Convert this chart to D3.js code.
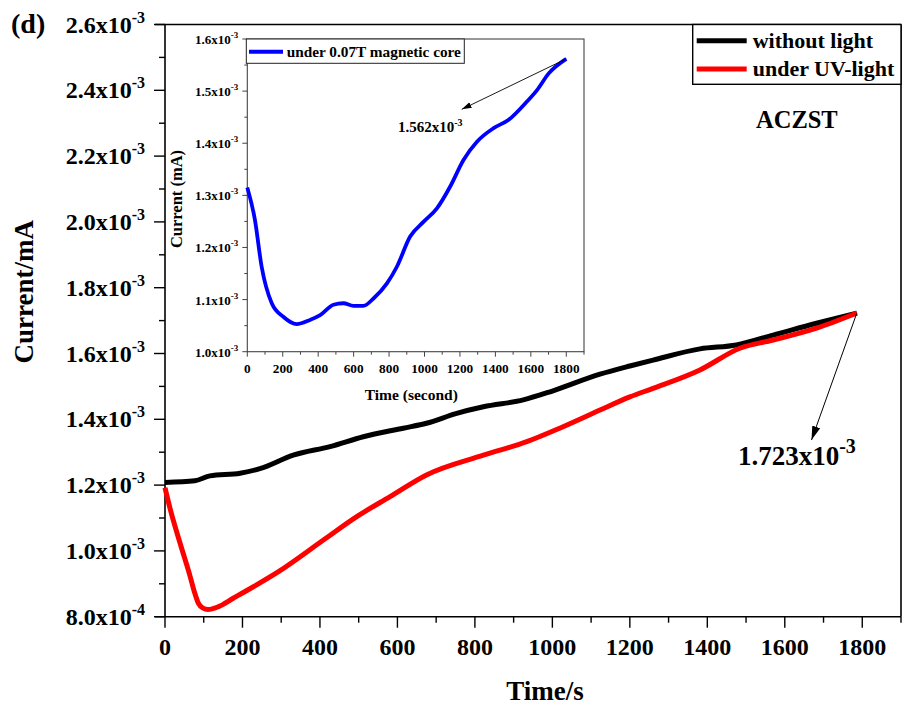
<!DOCTYPE html>
<html>
<head>
<meta charset="utf-8">
<script src="https://cdn.jsdelivr.net/npm/d3@7"></script>
<style>
  html, body { margin: 0; padding: 0; background: #fff; }
  svg { display: block; font-family: "Liberation Serif", "Times New Roman", serif; font-weight: bold; }
</style>
</head>
<body>
<svg id="chart" width="903" height="706"></svg>
<script>
// ---- Main panel data (current in mA, time in s) ----
const timeDark = [0, 77, 116, 194, 245, 331, 426, 512, 615, 675, 753, 822, 925, 1000, 1123, 1200, 1260, 1381, 1475, 1570, 1682, 1786];
const currentDark = [1.208e-3, 1.213e-3, 1.228e-3, 1.236e-3, 1.250e-3, 1.291e-3, 1.317e-3, 1.347e-3, 1.373e-3, 1.388e-3, 1.418e-3, 1.438e-3, 1.459e-3, 1.486e-3, 1.537e-3, 1.562e-3, 1.580e-3, 1.614e-3, 1.626e-3, 1.656e-3, 1.692e-3, 1.723e-3];

const timeUV = [0, 13, 39, 65, 77, 86, 98, 111, 137, 176, 228, 293, 409, 495, 581, 675, 822, 934, 1019, 1123, 1200, 1260, 1381, 1484, 1570, 1682, 1786];
const currentUV = [1.192e-3, 1.129e-3, 1.023e-3, 0.922e-3, 0.871e-3, 0.841e-3, 0.826e-3, 0.822e-3, 0.830e-3, 0.856e-3, 0.891e-3, 0.937e-3, 1.033e-3, 1.104e-3, 1.165e-3, 1.231e-3, 1.291e-3, 1.332e-3, 1.373e-3, 1.428e-3, 1.468e-3, 1.494e-3, 1.550e-3, 1.616e-3, 1.641e-3, 1.677e-3, 1.723e-3];

// ---- Inset data ----
const timeCore = [0, 43, 81, 138, 203, 279, 354, 411, 486, 542, 599, 655, 712, 788, 844, 919, 994, 1070, 1145, 1220, 1296, 1390, 1475, 1578, 1635, 1701, 1800];
const currentCore = [1.315e-3, 1.253e-3, 1.163e-3, 1.093e-3, 1.067e-3, 1.053e-3, 1.061e-3, 1.070e-3, 1.090e-3, 1.093e-3, 1.088e-3, 1.088e-3, 1.102e-3, 1.131e-3, 1.163e-3, 1.221e-3, 1.249e-3, 1.275e-3, 1.317e-3, 1.368e-3, 1.403e-3, 1.429e-3, 1.445e-3, 1.480e-3, 1.502e-3, 1.534e-3, 1.562e-3];

// ---- Axis ticks and labels ----
const mainXTicks = [0, 200, 400, 600, 800, 1000, 1200, 1400, 1600, 1800];
const mainYTicks = [0.8e-3, 1.0e-3, 1.2e-3, 1.4e-3, 1.6e-3, 1.8e-3, 2.0e-3, 2.2e-3, 2.4e-3, 2.6e-3];
const mainYLabels = [["8.0x10", "-4"], ["1.0x10", "-3"], ["1.2x10", "-3"], ["1.4x10", "-3"], ["1.6x10", "-3"], ["1.8x10", "-3"], ["2.0x10", "-3"], ["2.2x10", "-3"], ["2.4x10", "-3"], ["2.6x10", "-3"]];
const insetXTicks = [0, 200, 400, 600, 800, 1000, 1200, 1400, 1600, 1800];
const insetYTicks = [1.0e-3, 1.1e-3, 1.2e-3, 1.3e-3, 1.4e-3, 1.5e-3, 1.6e-3];
const insetYLabels = [["1.0x10", "-3"], ["1.1x10", "-3"], ["1.2x10", "-3"], ["1.3x10", "-3"], ["1.4x10", "-3"], ["1.5x10", "-3"], ["1.6x10", "-3"]];

const seriesNames = ["without light", "under UV-light"];
const insetSeriesName = "under 0.07T magnetic core";
const endLabel = ["1.723x10", "-3"];
const insetEndLabel = ["1.562x10", "-3"];

const svg = d3.select("#chart");

// arrowhead markers
const defs = svg.append("defs");
defs.append("marker").attr("id", "arrowHead")
  .attr("viewBox", "0 0 10 10").attr("refX", 10).attr("refY", 5)
  .attr("markerWidth", 14).attr("markerHeight", 14).attr("markerUnits", "userSpaceOnUse")
  .attr("orient", "auto")
  .append("path").attr("d", "M0,2 L10,5 L0,8 Z").attr("fill", "#000");
defs.append("marker").attr("id", "arrowHeadSmall")
  .attr("viewBox", "0 0 10 10").attr("refX", 10).attr("refY", 5)
  .attr("markerWidth", 10).attr("markerHeight", 10).attr("markerUnits", "userSpaceOnUse")
  .attr("orient", "auto")
  .append("path").attr("d", "M0,2 L10,5 L0,8 Z").attr("fill", "#000");

// text with a raised exponent
function sciText(sel, mant, exp, size, supSize, rise) {
  sel.append("tspan").text(mant).attr("font-size", size);
  sel.append("tspan").text(exp).attr("font-size", supSize).attr("dy", -rise);
}

// ================= Main panel =================
const M = { left: 165, right: 901, top: 24.5, bottom: 616.7 };
const x = d3.scaleLinear().domain([0, 1900]).range([M.left, M.right]);
const y = d3.scaleLinear().domain([0.8e-3, 2.6e-3]).range([M.bottom, M.top]);

const mainLine = d3.line().x(d => x(d[0])).y(d => y(d[1])).curve(d3.curveMonotoneX);
const darkData = d3.zip(timeDark, currentDark);
const uvData = d3.zip(timeUV, currentUV);

// frame (top and right)
svg.append("line").attr("x1", M.left - 10).attr("x2", M.right).attr("y1", M.top).attr("y2", M.top)
  .attr("stroke", "#000").attr("stroke-width", 1.6);
svg.append("line").attr("x1", M.right).attr("x2", M.right).attr("y1", M.top).attr("y2", M.bottom)
  .attr("stroke", "#000").attr("stroke-width", 1.6);

// x axis
const xAxis = svg.append("g").attr("transform", `translate(0,${M.bottom})`);
xAxis.append("line").attr("x1", M.left - 10).attr("x2", M.right).attr("stroke", "#000").attr("stroke-width", 1.6);
d3.range(0, 1901, 100).forEach(t => {
  const major = t % 200 === 0;
  xAxis.append("line").attr("x1", x(t)).attr("x2", x(t)).attr("y1", 0).attr("y2", major ? 11 : 6)
    .attr("stroke", "#000").attr("stroke-width", 1.4);
});
xAxis.selectAll("text.tick").data(mainXTicks).enter().append("text")
  .attr("x", d => x(d)).attr("y", 38).attr("text-anchor", "middle")
  .attr("font-size", 24).text(d => d);
svg.append("text").attr("x", 545).attr("y", 700).attr("text-anchor", "middle")
  .attr("font-size", 27).text("Time/s");

// y axis
const yAxis = svg.append("g").attr("transform", `translate(${M.left},0)`);
yAxis.append("line").attr("y1", M.top).attr("y2", M.bottom).attr("stroke", "#000").attr("stroke-width", 1.6);
d3.range(0, 19).forEach(i => {
  const v = 0.8e-3 + i * 0.1e-3;
  const major = i % 2 === 0;
  yAxis.append("line").attr("x1", major ? -11 : -6).attr("x2", 0).attr("y1", y(v)).attr("y2", y(v))
    .attr("stroke", "#000").attr("stroke-width", 1.4);
});
mainYTicks.forEach((v, i) => {
  const t = yAxis.append("text").attr("x", -20).attr("y", y(v) + 8).attr("text-anchor", "end");
  sciText(t, mainYLabels[i][0], mainYLabels[i][1], 24, 16, 10);
});
svg.append("text").attr("transform", "translate(33,291.7) rotate(-90)")
  .attr("text-anchor", "middle").attr("font-size", 27).text("Current/mA");

// panel letter
svg.append("text").attr("x", 11).attr("y", 33).attr("font-size", 28).text("(d)");

// series
svg.append("path").datum(darkData).attr("d", mainLine)
  .attr("fill", "none").attr("stroke", "#000").attr("stroke-width", 5).attr("stroke-linejoin", "round");
svg.append("path").datum(uvData).attr("d", mainLine)
  .attr("fill", "none").attr("stroke", "#ff0000").attr("stroke-width", 5).attr("stroke-linejoin", "round");

// end-value annotation
const endPt = darkData[darkData.length - 1];
svg.append("line").attr("x1", x(endPt[0])).attr("y1", y(endPt[1]))
  .attr("x2", x(1669)).attr("y2", y(1.337e-3))
  .attr("stroke", "#000").attr("stroke-width", 1).attr("marker-end", "url(#arrowHead)");
sciText(svg.append("text").attr("x", x(1479)).attr("y", y(1.261e-3)), endLabel[0], endLabel[1], 27, 20, 12);

// legend
const leg = svg.append("g");
leg.append("rect").attr("x", 692.7).attr("y", M.top).attr("width", M.right - 692.7).attr("height", 84.3 - M.top)
  .attr("fill", "#fff").attr("stroke", "#000").attr("stroke-width", 1.4);
[["#000", 40.7], ["#ff0000", 69]].forEach((c, i) => {
  leg.append("line").attr("x1", 696.7).attr("x2", 746.7).attr("y1", c[1]).attr("y2", c[1])
    .attr("stroke", c[0]).attr("stroke-width", 5);
  leg.append("text").attr("x", 752.7).attr("y", c[1] + 7).attr("font-size", 22).text(seriesNames[i]);
});
svg.append("text").attr("x", 756).attr("y", 127.7).attr("font-size", 24.5).text("ACZST");

// ================= Inset =================
const I = { left: 247.3, right: 584, top: 39, bottom: 351.7 };
const xi = d3.scaleLinear().domain([0, 1900]).range([I.left, I.right]);
const yi = d3.scaleLinear().domain([1.0e-3, 1.6e-3]).range([I.bottom, I.top]);
const insetColor = "#444";

const inset = svg.append("g");
inset.append("rect").attr("x", I.left).attr("y", I.top).attr("width", I.right - I.left).attr("height", I.bottom - I.top)
  .attr("fill", "#fff").attr("stroke", insetColor).attr("stroke-width", 1.1);

d3.range(0, 1901, 100).forEach(t => {
  const major = t % 200 === 0;
  inset.append("line").attr("x1", xi(t)).attr("x2", xi(t)).attr("y1", I.bottom).attr("y2", I.bottom + (major ? 5 : 3))
    .attr("stroke", insetColor).attr("stroke-width", 1);
});
inset.selectAll("text.xt").data(insetXTicks).enter().append("text")
  .attr("x", d => xi(d)).attr("y", 373).attr("text-anchor", "middle")
  .attr("font-size", 13.3).text(d => d);
inset.append("text").attr("x", 411.3).attr("y", 400).attr("text-anchor", "middle")
  .attr("font-size", 15.5).text("Time (second)");

d3.range(0, 13).forEach(i => {
  const v = 1.0e-3 + i * 0.05e-3;
  const major = i % 2 === 0;
  inset.append("line").attr("x1", I.left - (major ? 5 : 3)).attr("x2", I.left).attr("y1", yi(v)).attr("y2", yi(v))
    .attr("stroke", insetColor).attr("stroke-width", 1);
});
insetYTicks.forEach((v, i) => {
  const t = inset.append("text").attr("x", I.left - 9).attr("y", yi(v) + 5).attr("text-anchor", "end");
  sciText(t, insetYLabels[i][0], insetYLabels[i][1], 13, 9, 6);
});
inset.append("text").attr("transform", "translate(181.5,199) rotate(-90)")
  .attr("text-anchor", "middle").attr("font-size", 16.5).text("Current (mA)");

const insetLine = d3.line().x(d => xi(d[0])).y(d => yi(d[1])).curve(d3.curveMonotoneX);
const coreData = d3.zip(timeCore, currentCore);
inset.append("path").datum(coreData).attr("d", insetLine)
  .attr("fill", "none").attr("stroke", "#0000ff").attr("stroke-width", 3.8).attr("stroke-linejoin", "round");

// inset legend
inset.append("rect").attr("x", I.left - 1).attr("y", I.top).attr("width", 464.3 - I.left + 1).attr("height", 63.3 - I.top)
  .attr("fill", "#fff").attr("stroke", "#222").attr("stroke-width", 1);
inset.append("line").attr("x1", 249).attr("x2", 283).attr("y1", 51.7).attr("y2", 51.7)
  .attr("stroke", "#0000ff").attr("stroke-width", 4);
inset.append("text").attr("x", 286.7).attr("y", 57).attr("font-size", 15.3).text(insetSeriesName);

// inset end-value annotation
const coreEnd = coreData[coreData.length - 1];
inset.append("line").attr("x1", xi(coreEnd[0])).attr("y1", yi(coreEnd[1]))
  .attr("x2", xi(1210)).attr("y2", yi(1.465e-3))
  .attr("stroke", "#000").attr("stroke-width", 0.9).attr("marker-end", "url(#arrowHeadSmall)");
sciText(inset.append("text").attr("x", xi(850)).attr("y", yi(1.422e-3)), insetEndLabel[0], insetEndLabel[1], 15, 10, 6);
</script>
</body>
</html>
